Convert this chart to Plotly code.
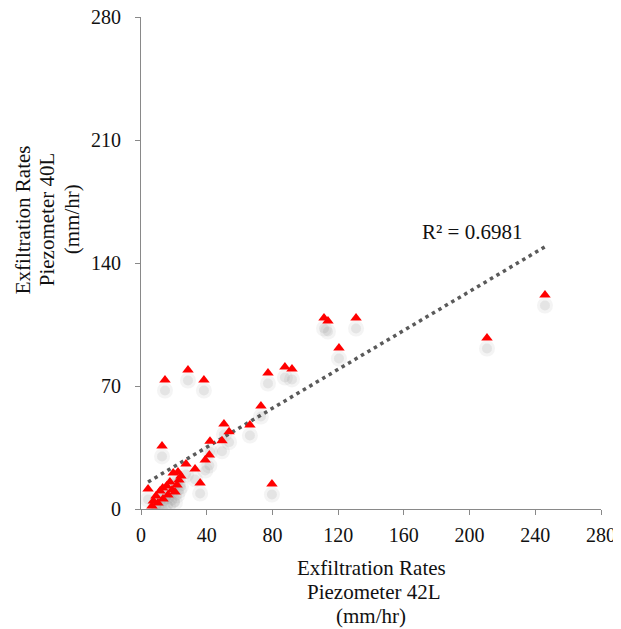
import numpy as np
import plotly.graph_objects as go

# Exfiltration rates (mm/hr): Piezometer 42L (x) vs Piezometer 40L (y)
x_42L = [4.3, 12.8, 14.6, 28.6, 38.3, 27.4, 32.9, 36.0, 39.1, 41.6, 42.0, 49.3, 50.5, 53.6,
         66.3, 73.0, 77.3, 79.7, 87.6, 91.9, 111.4, 113.8, 120.5, 130.9, 210.6, 245.9,
         6.7, 7.5, 9.1, 11.6, 13.2, 15.6, 17.6, 19.6, 20.7, 10.3, 13.4, 16.4, 18.9, 21.9,
         23.1, 24.3, 22.5]
y_40L = [11.4, 35.9, 73.4, 79.1, 73.4, 25.6, 22.8, 14.8, 27.9, 30.7, 38.5, 38.8, 48.4, 44.0,
         47.8, 58.6, 77.4, 14.2, 80.8, 79.7, 108.7, 107.0, 91.6, 108.7, 97.3, 121.8,
         1.7, 4.6, 7.4, 10.2, 12.0, 13.1, 15.4, 20.5, 9.7, 3.4, 5.7, 8.0, 10.8, 13.7,
         16.5, 18.8, 21.0]
r2_label = "R² = 0.6981"

x_ticks = [0, 40, 80, 120, 160, 200, 240, 280]
y_ticks = [0, 70, 140, 210, 280]
x_title = ["Exfiltration Rates", "Piezometer 42L", "(mm/hr)"]
y_title = ["Exfiltration Rates", "Piezometer 40L", "(mm/hr)"]

# page is drawn inside the browser's default 8px body margin
W, H = 613, 621
L, R, T, B = 133, 20, 9, 120
plot_w = W - L - R
plot_h = H - T - B
x_arr = np.array(x_42L)
y_arr = np.array(y_40L)

# linear trendline from the data
slope, intercept = np.polyfit(x_arr, y_arr, 1)
tx = np.array([x_arr.min(), x_arr.max()])
ty = slope * tx + intercept

# shadow offset: pixels converted to data units
shadow_dy = 10.5 * (y_ticks[-1] - y_ticks[0]) / plot_h

fig = go.Figure()
fig.add_trace(go.Scatter(x=x_arr, y=y_arr - shadow_dy, mode="markers",
                         marker=dict(symbol="circle", size=16, color="rgba(120,120,120,0.08)",
                                     line=dict(width=0)), hoverinfo="skip"))
fig.add_trace(go.Scatter(x=x_arr, y=y_arr - shadow_dy, mode="markers",
                         marker=dict(symbol="circle", size=10, color="rgba(120,120,120,0.13)",
                                     line=dict(width=0)), hoverinfo="skip"))
fig.add_trace(go.Scatter(x=tx, y=ty, mode="lines",
                         line=dict(color="#5a5a5a", width=3.5, dash="3.5px,4px")))
fig.add_trace(go.Scatter(x=x_arr, y=y_arr, mode="markers",
                         marker=dict(symbol="triangle-up", size=10, color="#ff0000",
                                     line=dict(width=0))))

tick_font = dict(family="Liberation Serif, Times New Roman, serif", size=20, color="#111111")
text_font = dict(family="Liberation Serif, Times New Roman, serif", size=21, color="#111111")
axis_common = dict(showgrid=False, zeroline=False, showline=True, linecolor="#898989",
                   linewidth=1, ticks="outside", ticklen=5, tickcolor="#898989",
                   tickfont=tick_font, automargin=False, ticklabeloverflow="allow")
fig.update_xaxes(range=[0, 280], tickvals=x_ticks, ticklabelstandoff=3, **axis_common)
fig.update_yaxes(range=[0, 280], tickvals=y_ticks, ticklabelstandoff=10, **axis_common)

# axis titles, one annotation per line (pixel offsets from plot area edges)
x_title_dy = [59, 83, 107]
x_title_dx = [0, 3, 0]
for txt, dy, dx in zip(x_title, x_title_dy, x_title_dx):
    fig.add_annotation(text=txt, xref="paper", yref="paper", x=0.5, y=-dy / plot_h,
                       xshift=dx, xanchor="center", yanchor="middle",
                       showarrow=False, font=text_font)
y_title_dx = [118, 94, 69]
for txt, dx in zip(y_title, y_title_dx):
    fig.add_annotation(text=txt, xref="paper", yref="paper", x=-dx / plot_w, y=0.589,
                       xanchor="center", yanchor="middle", textangle=-90,
                       showarrow=False, font=text_font)
fig.add_annotation(text=r2_label, xref="paper", yref="paper", x=0.72, y=0.563,
                   xanchor="center", yanchor="middle", showarrow=False, font=text_font)

fig.update_layout(width=W, height=H, margin=dict(l=L, r=R, t=T, b=B, autoexpand=False),
                  paper_bgcolor="white", plot_bgcolor="white", showlegend=False)
fig.write_html("out.html")
